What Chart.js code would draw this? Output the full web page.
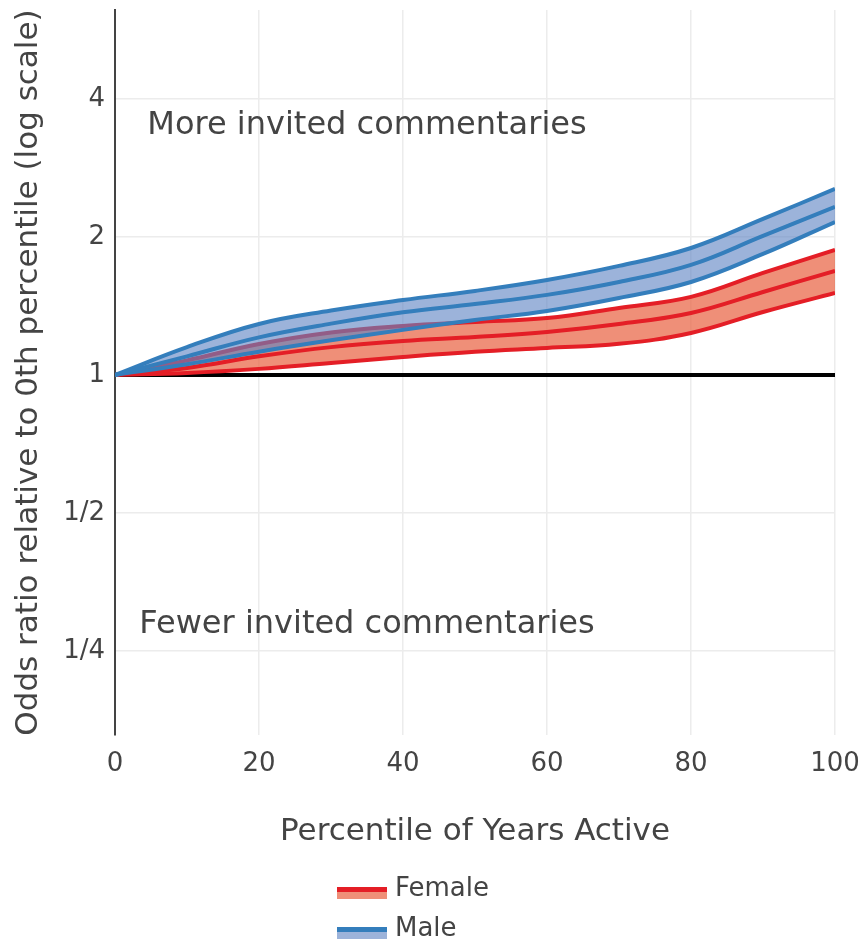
<!DOCTYPE html>
<html>
<head>
<meta charset="utf-8">
<title>Odds ratio by percentile of years active</title>
<script src="https://cdn.jsdelivr.net/npm/chart.js@4.4.1/dist/chart.umd.min.js"></script>
<style>
  html, body { margin: 0; padding: 0; background: #ffffff; }
  #wrap { width: 864px; height: 942px; position: relative; }
</style>
</head>
<body>
<div id="wrap"><canvas id="chart"></canvas></div>
<script>
// Percentile of years active (x values)
const percentiles = [0, 10, 20, 30, 40, 50, 60, 70, 80, 90, 100];

// Odds ratios relative to the 0th percentile: estimate with upper / lower bounds
const maleUpper   = [1.00, 1.150, 1.292, 1.382, 1.457, 1.525, 1.611, 1.729, 1.892, 2.189, 2.545];
const maleMid     = [1.00, 1.098, 1.208, 1.294, 1.370, 1.428, 1.495, 1.595, 1.738, 2.010, 2.325];
const maleLower   = [1.00, 1.055, 1.124, 1.190, 1.254, 1.318, 1.379, 1.472, 1.595, 1.836, 2.156];
const femaleUpper = [1.00, 1.076, 1.168, 1.238, 1.279, 1.305, 1.331, 1.400, 1.480, 1.669, 1.874];
const femaleMid   = [1.00, 1.036, 1.098, 1.150, 1.186, 1.210, 1.241, 1.292, 1.365, 1.517, 1.686];
const femaleLower = [1.00, 1.010, 1.031, 1.062, 1.094, 1.123, 1.145, 1.169, 1.235, 1.372, 1.510];

// Reference line (odds ratio of 1 across the whole range)
const baselineX = [0, 100];
const baselineY = [1, 1];

// Log-scale y ticks and their labels
const yTickValues = [0.25, 0.5, 1, 2, 4];
const yTickLabels = ['1/4', '1/2', '1', '2', '4'];

// Annotation texts placed in data coordinates
const notes = [
  { text: 'More invited commentaries', x: 35, y: 3.49 },
  { text: 'Fewer invited commentaries', x: 35, y: 0.285 }
];

const FONT = "'DejaVu Sans', Verdana, sans-serif";
const TEXT = '#444444';

const MALE_LINE = 'rgb(52,126,188)';
const MALE_FILL = 'rgba(96,132,196,0.62)';
const FEMALE_LINE = 'rgb(228,30,38)';
const FEMALE_FILL = 'rgba(234,105,75,0.75)';

const pts = (ys) => percentiles.map((x, i) => ({ x: x, y: ys[i] }));

const lineBase = {
  pointRadius: 0,
  pointHoverRadius: 0,
  borderWidth: 4,
  tension: 0.4,
  fill: false
};

// Text annotations inside the plot
const notesPlugin = {
  id: 'notes',
  afterDatasetsDraw(chart) {
    const { ctx, scales } = chart;
    ctx.save();
    ctx.font = '32px ' + FONT;
    ctx.fillStyle = TEXT;
    ctx.textAlign = 'center';
    ctx.textBaseline = 'middle';
    notes.forEach(n => {
      ctx.fillText(n.text, scales.x.getPixelForValue(n.x), scales.y.getPixelForValue(n.y));
    });
    ctx.restore();
  }
};

// Legend with a two-tone swatch (line over band)
const bandLegend = {
  id: 'bandLegend',
  afterDraw(chart) {
    const { ctx } = chart;
    const items = [
      { ds: chart.data.datasets[3], line: FEMALE_LINE, fill: FEMALE_FILL, y: 889 },
      { ds: chart.data.datasets[0], line: MALE_LINE, fill: MALE_FILL, y: 929 }
    ];
    ctx.save();
    ctx.font = '26px ' + FONT;
    ctx.textBaseline = 'middle';
    ctx.textAlign = 'left';
    items.forEach(it => {
      const x0 = 337, w = 50;
      ctx.fillStyle = it.fill;
      ctx.fillRect(x0, it.y + 3, w, 7);
      ctx.fillStyle = it.line;
      ctx.fillRect(x0, it.y - 2, w, 5);
      ctx.fillStyle = TEXT;
      ctx.fillText(it.ds.label, 395, it.y);
    });
    ctx.restore();
  }
};

new Chart(document.getElementById('chart'), {
  type: 'line',
  data: {
    datasets: [
      // Male group (index 2 carries the band fill so it is painted under the lines)
      { ...lineBase, label: 'Male', data: pts(maleMid), borderColor: MALE_LINE },
      { ...lineBase, label: 'Male upper', data: pts(maleUpper), borderColor: MALE_LINE },
      { ...lineBase, label: 'Male lower', data: pts(maleLower), borderColor: MALE_LINE,
        fill: { target: '-1' }, backgroundColor: MALE_FILL },
      // Female group
      { ...lineBase, label: 'Female', data: pts(femaleMid), borderColor: FEMALE_LINE },
      { ...lineBase, label: 'Female upper', data: pts(femaleUpper), borderColor: FEMALE_LINE },
      { ...lineBase, label: 'Female lower', data: pts(femaleLower), borderColor: FEMALE_LINE,
        fill: { target: '-1' }, backgroundColor: FEMALE_FILL },
      // Reference line at 1
      { label: 'Reference', data: baselineX.map((x, i) => ({ x: x, y: baselineY[i] })),
        borderColor: '#000000', borderWidth: 4, pointRadius: 0, fill: false, tension: 0 }
    ]
  },
  options: {
    responsive: true,
    maintainAspectRatio: false,
    animation: false,
    devicePixelRatio: 1,
    layout: { padding: { top: 10, right: 29, bottom: 91, left: 0 } },
    plugins: {
      legend: { display: false },
      tooltip: { enabled: false }
    },
    scales: {
      x: {
        type: 'linear',
        min: 0,
        max: 100,
        ticks: { stepSize: 20, color: TEXT, font: { family: FONT, size: 26 }, padding: 14, maxRotation: 0 },
        grid: { color: '#ececec', lineWidth: 1.5, drawTicks: false },
        border: { display: false },
        title: {
          display: true,
          text: 'Percentile of Years Active',
          color: TEXT,
          font: { family: FONT, size: 31 },
          padding: { top: 0, bottom: 0 }
        },
        afterFit(scale) {
          scale.height = 116;
          scale.paddingLeft = 0;
          scale.paddingRight = 0;
        }
      },
      y: {
        type: 'logarithmic',
        min: 0.164,
        max: 6.25,
        afterBuildTicks(scale) { scale.ticks = yTickValues.map(v => ({ value: v })); },
        ticks: {
          color: TEXT,
          font: { family: FONT, size: 26 },
          padding: 10,
          callback(value) {
            const i = yTickValues.indexOf(value);
            return i >= 0 ? yTickLabels[i] : '';
          }
        },
        grid: { color: '#ececec', lineWidth: 1.5, drawTicks: false },
        border: { display: true, color: '#444444', width: 2 },
        title: {
          display: true,
          text: 'Odds ratio relative to 0th percentile (log scale)',
          color: TEXT,
          font: { family: FONT, size: 31 },
          padding: { top: 10, bottom: 0 }
        },
        afterFit(scale) {
          scale.width = 115;
          scale.paddingTop = 0;
          scale.paddingBottom = 0;
        }
      }
    }
  },
  plugins: [notesPlugin, bandLegend]
});
</script>
</body>
</html>
